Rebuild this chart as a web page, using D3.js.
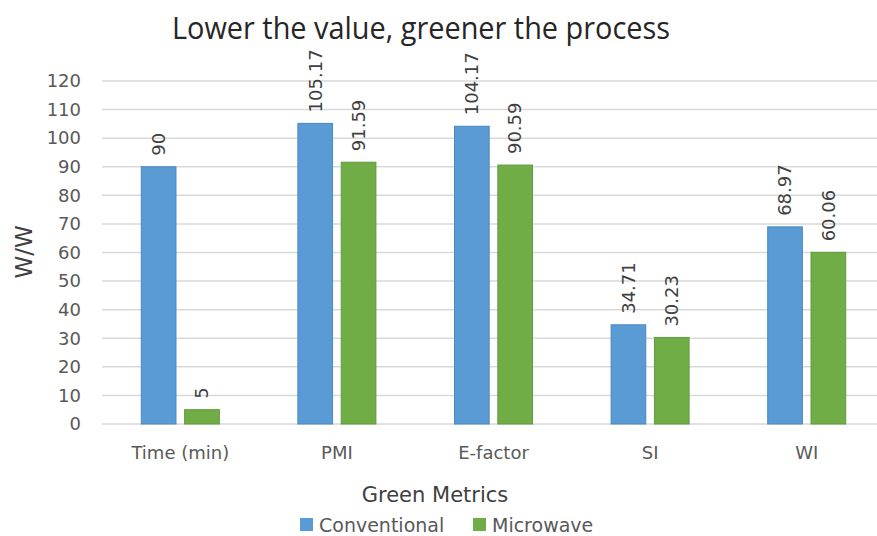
<!DOCTYPE html>
<html>
<head>
<meta charset="utf-8">
<script src="https://cdn.jsdelivr.net/npm/d3@7"></script>
<style>
  body { margin: 0; background: #fff; }
  text { font-family: "DejaVu Sans", "Open Sans", sans-serif; }
</style>
</head>
<body>
<div id="chart"></div>
<script>
// chart data
var categories = ["Time (min)", "PMI", "E-factor", "SI", "WI"];
var seriesNames = ["Conventional", "Microwave"];
var conventional = [90, 105.17, 104.17, 34.71, 68.97];
var microwave = [5, 91.59, 90.59, 30.23, 60.06];
var yTicks = [0, 10, 20, 30, 40, 50, 60, 70, 80, 90, 100, 110, 120];
var colors = ["#5B9BD5", "#70AD47"];
var strokes = ["#4a88c0", "#5f9a3b"];

var svgWidth = 877, svgHeight = 536;

var svg = d3.select("#chart")
    .append("svg")
    .attr("width", svgWidth)
    .attr("height", svgHeight);

// scales
var x0 = d3.scaleBand()
    .domain(categories)
    .range([102, 885]);

var groupWidth = 78;
var x1 = d3.scaleBand()
    .domain(seriesNames)
    .range([0, groupWidth])
    .paddingInner(0.2);

var y = d3.scaleLinear()
    .domain([0, 120])
    .range([424, 81]);

// gridlines
svg.append("g")
    .selectAll("line")
    .data(yTicks)
    .enter()
    .append("line")
    .attr("x1", 102)
    .attr("x2", 877)
    .attr("y1", d => y(d))
    .attr("y2", d => y(d))
    .attr("stroke", "#d9d9d9")
    .attr("stroke-width", 1.5);

// y axis
var yAxis = d3.axisLeft(y).tickValues(yTicks).tickSize(0).tickPadding(0);
var yG = svg.append("g")
    .attr("transform", "translate(81,0)")
    .call(yAxis);
yG.select(".domain").remove();
yG.selectAll("text")
    .attr("font-size", "18px")
    .attr("fill", "#595959")
    .style("font-family", "'DejaVu Sans', sans-serif");

// x axis
var xAxis = d3.axisBottom(x0).tickSize(0).tickPadding(0);
var xG = svg.append("g")
    .attr("transform", "translate(0,446)")
    .call(xAxis);
xG.select(".domain").remove();
xG.selectAll("text")
    .attr("font-size", "18px")
    .attr("fill", "#595959")
    .style("font-family", "'DejaVu Sans', sans-serif");

// bars
var rows = categories.map(function (c, i) {
    return { cat: c, values: [conventional[i], microwave[i]] };
});

var offset = (x0.bandwidth() - groupWidth) / 2;

var groups = svg.selectAll(".grp")
    .data(rows)
    .enter()
    .append("g")
    .attr("class", "grp")
    .attr("transform", d => `translate(${x0(d.cat) + offset},0)`);

groups.selectAll("rect")
    .data(d => d.values.map((v, j) => ({ s: seriesNames[j], v: v, j: j })))
    .enter()
    .append("rect")
    .attr("x", d => x1(d.s))
    .attr("y", d => y(d.v))
    .attr("width", x1.bandwidth())
    .attr("height", d => y(0) - y(d.v))
    .attr("fill", d => colors[d.j])
    .attr("stroke", d => strokes[d.j])
    .attr("stroke-width", 1);

// value labels (rotated)
groups.selectAll(".val")
    .data(d => d.values.map((v, j) => ({ s: seriesNames[j], v: v, j: j })))
    .enter()
    .append("text")
    .attr("class", "val")
    .attr("transform", d => `translate(${x1(d.s) + x1.bandwidth() / 2},${y(d.v) - 11}) rotate(-90)`)
    .attr("dy", "0.35em")
    .attr("font-size", "18px")
    .attr("fill", "#404040")
    .text(d => d.v);

// title
svg.append("text")
    .attr("x", 421)
    .attr("y", 39)
    .attr("text-anchor", "middle")
    .attr("font-size", "31px")
    .attr("textLength", 498)
    .attr("lengthAdjust", "spacingAndGlyphs")
    .attr("fill", "#262626")
    .style("font-family", "'Open Sans', sans-serif")
    .text("Lower the value, greener the process");

// axis titles
svg.append("text")
    .attr("transform", "translate(24,252) rotate(-90)")
    .attr("text-anchor", "middle")
    .attr("dy", "0.35em")
    .attr("font-size", "23px")
    .attr("fill", "#404040")
    .text("W/W");

svg.append("text")
    .attr("x", 435)
    .attr("y", 502)
    .attr("text-anchor", "middle")
    .attr("font-size", "21px")
    .attr("fill", "#404040")
    .text("Green Metrics");

// legend
var legendX = [300, 473];
var legend = svg.selectAll(".leg")
    .data(seriesNames)
    .enter()
    .append("g")
    .attr("class", "leg")
    .attr("transform", (d, i) => `translate(${legendX[i]},518)`);

legend.append("rect")
    .attr("width", 13)
    .attr("height", 13)
    .attr("fill", (d, i) => colors[i]);

legend.append("text")
    .attr("x", 19)
    .attr("y", 7)
    .attr("dy", "0.35em")
    .attr("font-size", "19px")
    .attr("fill", "#595959")
    .text(d => d);
</script>
</body>
</html>
